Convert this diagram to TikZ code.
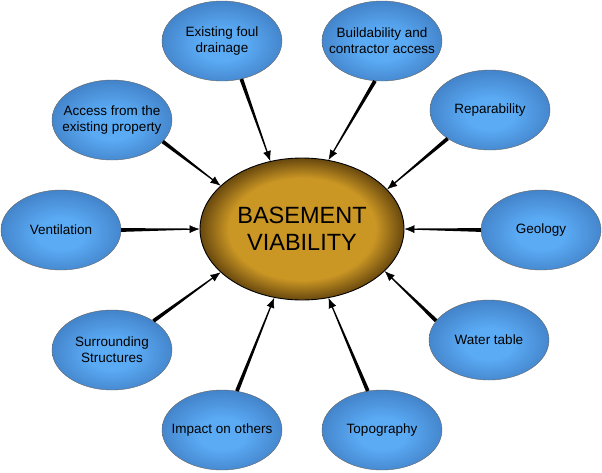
\documentclass[tikz,border=0pt]{standalone}
\usepackage{fontspec}
\setmainfont{Liberation Sans}
\usetikzlibrary{shapes.geometric,arrows.meta,calc}
\definecolor{blueA}{RGB}{90,170,244}
\definecolor{blueB}{RGB}{66,130,200}
\definecolor{goldA}{RGB}{202,150,36}
\definecolor{goldB}{RGB}{104,72,14}
\pgfdeclareradialshading{blueball}{\pgfpoint{0bp}{-3bp}}{color(0bp)=(blueA); color(10bp)=(blueA); color(27bp)=(blueB); color(50bp)=(blueB)}
\pgfdeclareradialshading{goldball}{\pgfpoint{0bp}{0bp}}{color(0bp)=(goldA); color(18bp)=(goldA); color(25bp)=(goldB); color(50bp)=(goldB)}
\tikzset{
  bub/.style={ellipse, draw=black!60, line width=0.4pt, shading=blueball, minimum width=120pt, minimum height=80pt, inner sep=0pt},
  core/.style={ellipse, draw=black, line width=0.9pt, shading=goldball, minimum width=204pt, minimum height=142pt, inner sep=0pt, align=center, font=\fontsize{23.5}{27}\selectfont},
  txt/.style={align=center, font=\fontsize{13.5}{16}\selectfont, text=black},
  tiparrow/.style={line width=0.5pt, -{Latex[length=10pt,width=8pt]}}
}
\newcommand\taparrow[2]{%
  \coordinate (tb) at ($(#2)!9pt!(#1)$);
  \fill ($(#1)!1.9pt!90:(tb)$) -- ($(#1)!1.9pt!-90:(tb)$) -- ($(tb)!0.6pt!90:(#1)$) -- ($(tb)!0.6pt!-90:(#1)$) -- cycle;
  \draw[tiparrow] (tb) -- (#2);
}
\begin{document}
\begin{tikzpicture}[x=1pt,y=-1pt]
\useasboundingbox (0,0) rectangle (602,472);
\node[core] (c) at (302,229) {BASEMENT\\VIABILITY};
\node[bub, label={[txt]center:Existing foul\\drainage}] (fd) at (222,41) {};
\node[bub, label={[txt]center:Buildability and\\contractor access}] (bc) at (382,41) {};
\node[bub, label={[txt]center:Reparability}] (rep) at (490,110) {};
\node[bub, label={[txt]center:Access from the\\existing property}] (acc) at (112,120) {};
\node[bub, label={[txt]center:Ventilation}] (ven) at (61,230) {};
\node[bub, label={[txt]center:Geology}] (geo) at (541,230) {};
\node[bub, label={[txt]center:Surrounding\\Structures}] (sur) at (112,350) {};
\node[bub, label={[txt]center:Water table}] (wat) at (489,340) {};
\node[bub, label={[txt]center:Impact on others}] (imp) at (222,430) {};
\node[bub, label={[txt]center:Topography}] (top) at (382,430) {};
\taparrow{fd.-63}{c.115}
\taparrow{bc.-100}{c.69}
\taparrow{rep.-146}{c.25}
\taparrow{acc.-23}{c.152}
\taparrow{ven.0}{c.180}
\taparrow{geo.180}{c.0}
\taparrow{sur.35}{c.208}
\taparrow{imp.69}{c.-112}
\taparrow{wat.160}{c.-27}
\taparrow{top.110}{c.-69}
\end{tikzpicture}
\end{document}
